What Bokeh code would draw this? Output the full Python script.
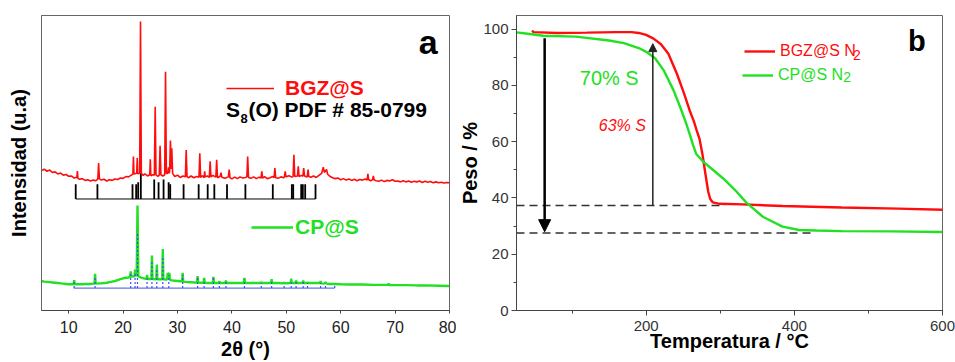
import numpy as np
from bokeh.plotting import figure
from bokeh.models import (Range1d, FixedTicker, Label, Legend, LegendItem, Arrow, NormalHead)
from bokeh.layouts import row
from bokeh.embed import file_html
from bokeh.resources import INLINE

# ---------------- data: panel a (XRD) ----------------
bgz_x = [5.0, 5.5, 6.0, 6.5, 7.0, 7.5, 8.0, 8.5, 9.0, 9.5, 10.0, 10.5, 11.0, 11.5, 11.6, 11.7,
         12.0, 12.5, 13.0, 13.5, 14.0, 14.5, 15.0, 15.35, 15.5, 15.65, 16.0, 16.5, 17.0, 17.5,
         18.0, 18.5, 19.0, 19.5, 20.0, 20.5, 21.0, 21.5, 21.8, 21.9, 22.0, 22.5, 22.6, 22.7,
         23.05, 23.2, 23.35, 23.7, 24.0, 24.5, 24.9, 25.0, 25.1, 25.5, 25.75, 25.9, 26.05, 26.4,
         26.65, 26.8, 26.95, 27.3, 27.65, 27.8, 27.95, 28.2, 28.35, 28.45, 28.55, 28.7, 28.85,
         28.95, 29.1, 29.5, 30.0, 30.5, 31.0, 31.45, 31.6, 31.75, 32.0, 32.5, 33.0, 33.5, 33.95,
         34.1, 34.25, 34.6, 34.9, 35.0, 35.1, 35.5, 35.85, 36.0, 36.15, 36.5, 37.05, 37.2, 37.35,
         37.85, 38.0, 38.15, 38.7, 39.35, 39.5, 39.65, 40.0, 40.5, 41.0, 41.5, 42.0, 42.5, 42.75,
         42.9, 43.05, 43.5, 44.0, 44.5, 45.0, 45.35, 45.5, 45.65, 46.0, 46.5, 47.0, 47.5, 47.75,
         47.9, 48.05, 48.5, 49.0, 49.5, 49.65, 49.8, 49.95, 50.5, 51.0, 51.25, 51.4, 51.55, 52.05,
         52.2, 52.35, 52.8, 53.05, 53.2, 53.35, 53.85, 54.0, 54.15, 54.5, 55.0, 55.5, 56.0, 56.5,
         56.8, 57.0, 57.4, 57.6, 58.0, 58.5, 59.0, 59.5, 60.0, 60.5, 61.0, 61.5, 62.0, 62.5, 63.0,
         63.5, 64.0, 64.5, 64.85, 65.0, 65.15, 65.5, 65.85, 66.0, 66.15, 66.5, 67.0, 67.5, 68.0,
         68.5, 69.0, 69.5, 70.0, 70.5, 71.0, 71.5, 72.0, 72.5, 73.0, 73.5, 74.0, 74.5, 75.0, 75.5,
         76.0, 76.5, 77.0, 77.5, 78.0, 78.5, 79.0, 79.5, 80.0]
bgz_y = [47.4, 47.9, 47.2, 47.6, 46.8, 47.0, 46.3, 46.6, 45.9, 46.1, 45.5, 45.6, 44.9, 45.2, 47.3, 44.8,
         44.5, 44.7, 44.1, 44.3, 43.9, 44.2, 44.0, 44.5, 50.0, 44.6, 44.2, 44.5, 43.9, 44.3,
         44.1, 44.6, 44.4, 44.9, 44.8, 45.4, 45.3, 45.9, 46.2, 52.2, 46.3, 46.5, 51.7, 46.4,
         46.5, 98.0, 46.5, 45.8, 46.3, 45.6, 46.0, 51.3, 45.7, 46.0, 45.9, 69.1, 46.0, 45.5,
         45.9, 55.8, 46.0, 45.6, 46.0, 80.9, 46.5, 46.5, 48.5, 46.5, 47.0, 57.6, 48.0,
         55.0, 46.5, 45.4, 45.9, 45.1, 45.6, 45.3, 54.4, 45.4, 45.0, 45.6, 45.0, 45.4, 45.2,
         53.3, 45.1, 45.7, 45.0, 47.2, 45.3, 45.6, 45.1, 50.6, 45.3, 45.8, 45.2, 51.1, 45.0,
         45.5, 46.7, 45.2, 44.8, 45.3, 47.8, 45.0, 44.6, 45.2, 44.7, 45.3, 44.9, 45.1, 45.3,
         52.2, 45.1, 44.8, 45.3, 44.7, 45.2, 44.9, 47.2, 44.9, 45.4, 44.7, 45.0, 45.4, 45.0,
         48.3, 45.0, 44.8, 45.3, 45.0, 45.2, 47.2, 45.3, 45.7, 45.2, 45.5, 52.8, 45.4, 45.6,
         48.9, 45.4, 45.8, 45.5, 48.3, 45.6, 45.3, 47.8, 45.4, 45.2, 45.6, 45.1, 45.8, 46.5,
         48.6, 46.8, 47.8, 46.2, 45.5, 45.0, 44.7, 44.9, 44.3, 44.7, 44.2, 44.6, 44.1, 44.5, 44.0,
         44.4, 44.2, 44.6, 44.2, 46.3, 44.3, 44.0, 44.3, 45.6, 44.2, 44.0, 43.8, 44.2, 43.7,
         44.1, 43.9, 44.3, 43.8, 43.9, 43.6, 44.0, 43.6, 43.9, 43.5, 43.8, 43.6, 43.9, 43.4, 43.8,
         43.5, 43.7, 43.3, 43.6, 43.3, 43.5, 43.2, 43.4, 43.3]

cp_x = [5.0, 5.5, 6.0, 6.5, 7.0, 7.5, 8.0, 8.5, 9.0, 9.5, 10.0, 10.5, 10.9, 11.0, 11.1, 11.5,
        12.0, 12.5, 13.0, 13.5, 14.0, 14.5, 14.75, 14.85, 14.95, 15.5, 16.0, 16.5, 17.0, 17.5,
        18.0, 18.5, 19.0, 19.5, 20.0, 20.5, 21.0, 21.3, 21.4, 21.5, 22.1, 22.2, 22.3, 22.5, 22.65,
        22.8, 23.2, 23.6, 24.0, 24.3, 24.4, 24.5, 25.2, 25.3, 25.4, 26.1, 26.2, 26.3, 27.2, 27.3,
        27.4, 28.1, 28.2, 28.35, 28.5, 28.6, 29.0, 29.5, 30.0, 30.5, 30.85, 30.95, 31.05, 31.5,
        32.0, 32.5, 33.0, 33.6, 33.7, 33.8, 34.2, 34.8, 34.9, 35.0, 35.5, 36.5, 36.6, 36.7, 37.6,
        37.7, 37.8, 38.8, 38.9, 39.0, 40.0, 41.0, 42.2, 42.3, 42.4, 43.0, 44.0, 45.3, 45.4, 45.5,
        46.5, 47.2, 47.3, 47.4, 48.5, 49.5, 49.6, 49.7, 50.8, 50.9, 51.0, 51.7, 51.8, 51.9, 53.0,
        53.1, 53.2, 53.8, 53.9, 54.0, 55.0, 56.2, 56.3, 56.4, 57.0, 57.2, 57.4, 58.0, 59.0, 60.0,
        62.0, 64.0, 66.0, 68.7, 68.8, 68.9, 70.0, 72.0, 74.0, 76.0, 78.0, 80.0]
cp_y = [10.0, 9.8, 9.7, 9.6, 9.5, 9.4, 9.3, 9.2, 9.1, 9.0, 8.9, 8.9, 8.9, 10.3, 8.9, 8.9,
        8.9, 8.9, 9.0, 9.0, 9.0, 9.1, 9.1, 12.4, 9.1, 9.2, 9.2, 9.3, 9.4, 9.6,
        9.8, 10.0, 10.3, 10.6, 10.9, 11.1, 11.2, 11.4, 13.3, 11.5, 11.6, 13.9, 11.8, 12.0, 35.6,
        11.6, 11.2, 11.0, 10.8, 10.7, 12.1, 10.7, 10.7, 18.6, 10.7, 10.6, 15.6, 10.6, 10.6, 20.8,
        10.6, 10.5, 12.8, 11.5, 12.8, 10.4, 10.2, 10.1, 10.0, 9.9, 9.9, 12.8, 9.8, 9.7,
        9.6, 9.6, 9.5, 9.5, 11.7, 9.5, 9.4, 9.4, 11.1, 9.4, 9.3, 9.3, 11.4, 9.3, 9.3,
        10.0, 9.3, 9.3, 10.2, 9.3, 9.3, 9.3, 9.3, 11.1, 9.3, 9.3, 9.3, 9.3, 9.7, 9.3,
        9.3, 9.3, 10.6, 9.3, 9.3, 9.2, 9.6, 9.2, 9.3, 10.8, 9.3, 9.3, 10.2, 9.3, 9.3,
        10.2, 9.3, 9.3, 9.6, 9.3, 9.3, 9.3, 10.0, 9.2, 9.1, 9.6, 9.1, 9.0, 9.0, 8.9,
        8.8, 8.8, 8.7, 8.7, 9.2, 8.6, 8.6, 8.6, 8.5, 8.5, 8.4, 8.3]

# S8(O) PDF # 85-0799 reference sticks
s8_pos = [11.29, 15.28, 21.73, 22.40, 22.77, 23.26, 25.72, 26.52, 27.44, 28.37, 28.66, 31.12,
          33.89, 35.55, 36.77, 39.10, 42.48, 47.52, 51.02, 51.27, 52.74, 53.04, 53.47, 55.37]
s8_top = [42.8, 42.8, 42.8, 42.8, 43.5, 46.5, 44.4, 43.5, 44.4, 43.5, 42.8, 42.8,
          42.8, 42.8, 42.8, 42.8, 42.8, 42.8, 42.8, 42.8, 42.8, 42.8, 42.8, 42.8]
s8_base = 37.8

# CP@S reference sticks (blue)
cpref_pos = [10.9, 11.0, 14.85, 21.4, 22.2, 22.65, 24.4, 25.3, 26.2, 27.3, 28.4, 30.95, 33.7,
             34.9, 36.6, 37.7, 38.9, 42.3, 45.4, 47.3, 49.6, 50.9, 51.8, 53.1, 53.9, 56.3,
             57.2, 58.9]
cpref_top = [7.6, 9.8, 11.5, 12.5, 13.0, 26.7, 11.0, 16.5, 14.0, 18.5, 12.0, 12.0, 11.0,
             10.5, 11.0, 9.5, 9.8, 10.5, 9.2, 10.0, 9.0, 10.3, 10.0, 10.0, 9.3, 9.3,
             9.0, 8.7]
cpref_base = 7.6

# ---------------- data: panel b (TGA) ----------------
tga_bgz_t = [46, 48, 80, 120, 160, 180, 190, 200, 210, 220, 230, 241.5, 250.5, 259.4, 264.4,
             268, 272, 276, 280, 283.8, 286.5, 290, 299, 330, 384, 464, 540, 600]
tga_bgz_w = [99.4, 98.9, 98.6, 98.7, 98.9, 98.9, 98.6, 97.9, 96.6, 94.6, 91.2, 84.1, 77.6,
             70.6, 67.2, 64.2, 61.0, 55.5, 48.5, 42.2, 39.6, 38.4, 37.9, 37.7, 37.1, 36.6,
             36.2, 35.8]
tga_cp_t = [25, 40, 61, 105, 150, 170, 177, 192, 200, 212, 224, 237, 246, 254, 259.5, 263,
            267.4, 277.3, 290, 304, 320, 335, 357.5, 384, 406.6, 430, 464, 530, 600]
tga_cp_w = [98.8, 98.3, 97.6, 97.3, 95.9, 95.0, 94.4, 93.0, 91.9, 89.6, 85.2, 78.2, 72.2,
            66.5, 62.0, 59.0, 55.7, 52.8, 50.0, 46.9, 42.8, 38.4, 33.3, 29.8, 28.6, 28.4,
            28.2, 28.1, 27.9]

# sulfur-content guide marks (residues and arrows)
residue_w = [37.3, 27.5]
residue_t_end = [306, 423]
arrow_t = [63, 209]
arrow_w_from = [96.7, 37.3]
arrow_w_to = [28.0, 94.8]

# ---------------- styles ----------------
FONT = "Liberation Sans"
RED = "#ff0d0d"
GREEN = "#22e022"
BLUE = "#3f4cf0"


def lab(p, x, y, text, size, color="black", style="normal", align="left",
        baseline="middle", angle=0.0):
    p.add_layout(Label(x=x, y=y, text=text, text_font=FONT, text_font_size=size,
                       text_color=color, text_font_style=style, text_align=align,
                       text_baseline=baseline, angle=angle))


def leg(p, label, r, loc, gw, gh, standoff, size, color, style="normal"):
    p.add_layout(Legend(items=[LegendItem(label=label, renderers=[r])], location=loc,
                        glyph_width=gw, glyph_height=gh, label_height=gh,
                        label_standoff=standoff, padding=0, margin=0, spacing=0,
                        background_fill_alpha=0, border_line_alpha=0,
                        label_text_font=FONT, label_text_font_style=style,
                        label_text_font_size=size, label_text_color=color))


# ================= panel a =================
pa = figure(width=456, height=362, x_range=Range1d(5, 80), y_range=Range1d(0, 100),
            output_backend="svg", toolbar_location=None,
            min_border_left=41, min_border_right=7, min_border_top=15, min_border_bottom=47)
pa.xgrid.visible = False
pa.ygrid.visible = False
pa.outline_line_color = "#666666"
pa.xaxis.ticker = FixedTicker(ticks=[10, 20, 30, 40, 50, 60, 70, 80], minor_ticks=[])
pa.xaxis.major_tick_out = 3
pa.xaxis.major_tick_in = 0
pa.xaxis.axis_line_color = "#444444"
pa.xaxis.major_tick_line_color = "#444444"
pa.xaxis.major_label_standoff = 7
pa.xaxis.major_label_text_font = FONT
pa.xaxis.major_label_text_font_size = "16px"
pa.xaxis.major_label_text_color = "#222222"
pa.xaxis.axis_label = "2\u03b8 (\u00b0)"
pa.xaxis.axis_label_standoff = 2
pa.yaxis.ticker = FixedTicker(ticks=[], minor_ticks=[])
pa.yaxis.major_tick_out = 0
pa.yaxis.minor_tick_out = 0
pa.yaxis.major_label_standoff = 0
pa.yaxis.axis_line_color = "#666666"
pa.yaxis.axis_label = "Intensidad (u.a)"
pa.yaxis.axis_label_standoff = 12
for ax in (pa.xaxis, pa.yaxis):
    ax.axis_label_text_font = FONT
    ax.axis_label_text_font_style = "bold"
    ax.axis_label_text_font_size = "20px"
    ax.axis_label_text_color = "black"

pa.segment(x0=s8_pos, y0=[s8_base] * len(s8_pos), x1=s8_pos, y1=s8_top,
           line_color="black", line_width=1.8)
pa.segment(x0=[min(s8_pos)], y0=[s8_base], x1=[max(s8_pos)], y1=[s8_base],
           line_color="black", line_width=1)
r_bgz = pa.line(bgz_x, bgz_y, line_color=RED, line_width=1.6)

r_cp = pa.line(cp_x, cp_y, line_color=GREEN, line_width=2.4)
pa.segment(x0=cpref_pos, y0=[cpref_base] * len(cpref_pos), x1=cpref_pos, y1=cpref_top,
           line_color=BLUE, line_width=1.2, line_dash="2 2")
pa.segment(x0=[min(cpref_pos)], y0=[cpref_base], x1=[max(cpref_pos)], y1=[cpref_base],
           line_color=BLUE, line_width=1.2, line_alpha=0.8)

leg(pa, "BGZ@S", r_bgz, (185, 210), 48, 24, 11, "21px", RED, "bold")
leg(pa, "CP@S", r_cp, (210, 71), 42, 24, 2, "21px", GREEN, "bold")

lab(pa, 38.92, 68.0, "S", "21px", style="bold")
lab(pa, 41.56, 65.2, "8", "13px", style="bold")
lab(pa, 43.03, 68.0, "(O) PDF # 85-0799", "21px", style="bold")
lab(pa, 76.07, 91.0, "a", "34px", style="bold", align="center")

# ================= panel b =================
pb = figure(width=499, height=362, x_range=Range1d(25, 600), y_range=Range1d(0, 104.8),
            output_backend="svg", toolbar_location=None,
            min_border_left=55, min_border_right=13, min_border_top=15, min_border_bottom=51)
pb.xgrid.visible = False
pb.ygrid.visible = False
pb.outline_line_color = "#666666"
pb.xaxis.ticker = FixedTicker(ticks=[200, 400, 600], minor_ticks=[100, 300, 500])
pb.yaxis.ticker = FixedTicker(ticks=[0, 20, 40, 60, 80, 100],
                              minor_ticks=[10, 30, 50, 70, 90])
for ax in (pb.xaxis, pb.yaxis):
    ax.major_tick_out = 5
    ax.major_tick_in = 0
    ax.minor_tick_out = 3
    ax.minor_tick_in = 0
    ax.axis_line_color = "#444444"
    ax.major_tick_line_color = "#444444"
    ax.minor_tick_line_color = "#444444"
    ax.major_label_standoff = 3
    ax.major_label_text_font = FONT
    ax.major_label_text_font_size = "15px"
    ax.major_label_text_color = "#333333"
    ax.axis_label_text_font = FONT
    ax.axis_label_text_font_style = "bold"
    ax.axis_label_text_font_size = "20px"
    ax.axis_label_text_color = "black"
pb.xaxis.major_label_standoff = 5
pb.xaxis.axis_label = "Temperatura / \u00b0C"
pb.xaxis.axis_label_standoff = -4
pb.yaxis.axis_label = "Peso / %"
pb.yaxis.axis_label_standoff = -1

pb.segment(x0=[25] * len(residue_w), y0=residue_w, x1=residue_t_end, y1=residue_w,
           line_color="#333333", line_width=1.5, line_dash="8 5")
r_tb = pb.line(tga_bgz_t, tga_bgz_w, line_color=RED, line_width=2.4)
r_tc = pb.line(tga_cp_t, tga_cp_w, line_color=GREEN, line_width=2.4)

pb.add_layout(Arrow(x_start=arrow_t[0], y_start=arrow_w_from[0], x_end=arrow_t[0],
                    y_end=arrow_w_to[0], line_width=2.5, line_color="black",
                    end=NormalHead(size=12, fill_color="black", line_color="black")))
pb.add_layout(Arrow(x_start=arrow_t[1], y_start=arrow_w_from[1], x_end=arrow_t[1],
                    y_end=arrow_w_to[1], line_width=1.5, line_color="#222222",
                    end=NormalHead(size=8, fill_color="#222222", line_color="#222222")))

leg(pb, "BGZ@S N", r_tb, (228, 249), 31, 20, 5, "16px", RED)
leg(pb, "CP@S N", r_tc, (226, 225), 31, 20, 5, "16px", GREEN)
lab(pb, 479.2, 90.9, "2", "14px", color=RED)
lab(pb, 465.9, 82.9, "2", "14px", color=GREEN)

lab(pb, 110.4, 82.7, "70% S", "20px", color=GREEN)
lab(pb, 136.1, 65.6, "63% S", "16px", color=RED, style="italic")
lab(pb, 565.3, 95.8, "b", "29px", style="bold", align="center")

layout = row(pa, pb)
open("out.html", "w").write(file_html(layout, INLINE))
